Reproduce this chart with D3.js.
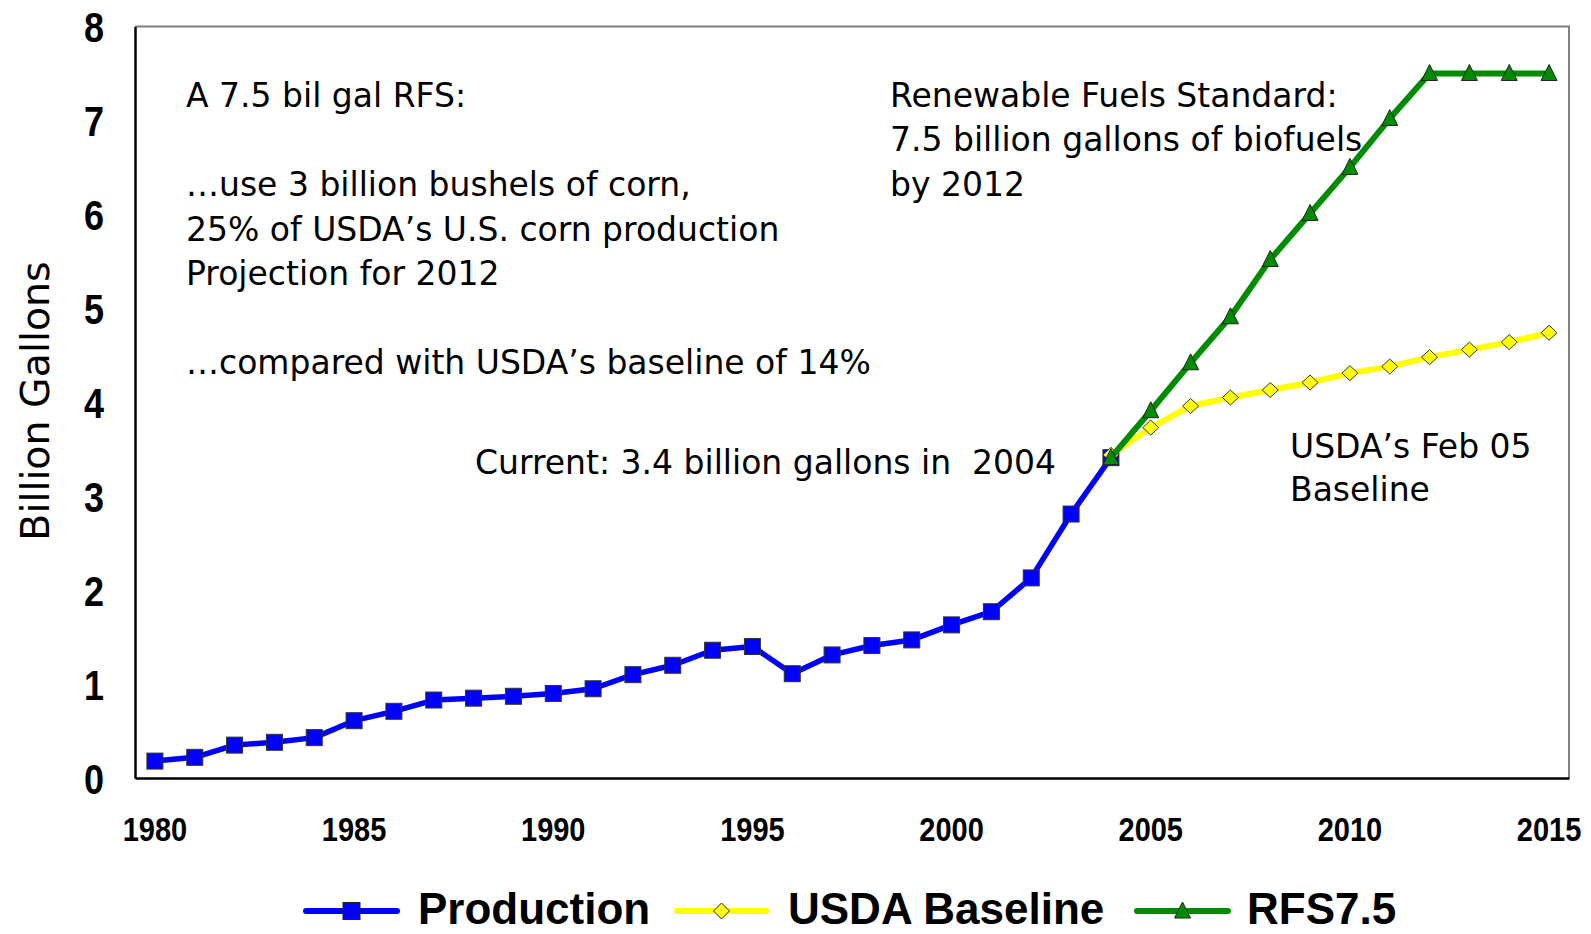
<!DOCTYPE html>
<html>
<head>
<meta charset="utf-8">
<script src="https://cdn.jsdelivr.net/npm/d3@7"></script>
<style>
  html, body { margin: 0; padding: 0; background: #fff; }
  svg { display: block; }
</style>
</head>
<body>
<svg id="chart" width="1591" height="934"></svg>
<script>
// ---- data ----
const years = d3.range(1980, 2016);
const xTickLabels = [1980, 1985, 1990, 1995, 2000, 2005, 2010, 2015];
const yTickLabels = [0, 1, 2, 3, 4, 5, 6, 7, 8];

const productionYears = d3.range(1980, 2005);
const productionValues = [0.18, 0.22, 0.35, 0.38, 0.43, 0.61, 0.71, 0.83, 0.85, 0.87,
                          0.90, 0.95, 1.10, 1.20, 1.36, 1.40, 1.11, 1.31, 1.41, 1.47,
                          1.63, 1.77, 2.13, 2.81, 3.41];

const projYears = d3.range(2004, 2016);
const usdaValues = [3.44, 3.73, 3.96, 4.05, 4.13, 4.21, 4.31, 4.38, 4.48, 4.56, 4.64, 4.74];
const rfsValues  = [3.41, 3.91, 4.42, 4.91, 5.52, 6.01, 6.50, 7.02, 7.50, 7.50, 7.50, 7.50];

const seriesNames = ["Production", "USDA Baseline", "RFS7.5"];
const yAxisTitle = "Billion Gallons";
const notesLeft = ["A 7.5 bil gal RFS:", "", "\u2026use 3 billion bushels of corn,",
                   "25% of USDA\u2019s U.S. corn production", "Projection for 2012", "",
                   "\u2026compared with USDA\u2019s baseline of 14%"];
const noteCurrent = "Current: 3.4 billion gallons in\u00a0 2004";
const notesRFS = ["Renewable Fuels Standard:", "7.5 billion gallons of biofuels", "by 2012"];
const notesUSDA = ["USDA\u2019s Feb 05", "Baseline"];

// ---- layout ----
const svg = d3.select("#chart");
const L = 135, R = 1569, T = 26.5, B = 778;

const x = d3.scaleBand().domain(years).range([L, R]).padding(0);
const cx = d => x(d) + x.bandwidth() / 2;
const y = d3.scaleLinear().domain([0, 8]).range([B, T]);

const BLUE = "#0000ff", YELLOW = "#ffff00", GREEN = "#008c00";
const TICKFONT = "'Liberation Sans', Arial, sans-serif";
const NOTEFONT = "'DejaVu Sans', Verdana, sans-serif";

// frame (top & right gray)
svg.append("path")
  .attr("d", `M${L},${T}H${R}V${B}`)
  .attr("fill", "none").attr("stroke", "#808080").attr("stroke-width", 2);

// x axis
const xAxis = d3.axisBottom(x).tickValues(xTickLabels).tickSize(0).tickPadding(0);
const gx = svg.append("g").attr("transform", `translate(0,${B})`).call(xAxis);
gx.select(".domain").attr("stroke", "#000").attr("stroke-width", 2.5);
gx.selectAll("text")
  .attr("y", null).attr("dy", null)
  .attr("transform", "translate(0,63) scale(1,1.17)")
  .attr("font-family", TICKFONT).attr("font-weight", "bold")
  .attr("font-size", 29).attr("fill", "#000");

// y axis
const yAxis = d3.axisLeft(y).tickValues(yTickLabels).tickSize(0).tickPadding(0);
const gy = svg.append("g").attr("transform", `translate(${L},0)`).call(yAxis);
gy.select(".domain").attr("stroke", "#000").attr("stroke-width", 2.5);
gy.selectAll("text")
  .attr("x", null).attr("dy", null)
  .attr("transform", "translate(-31,15) scale(1,1.17)")
  .attr("font-family", TICKFONT).attr("font-weight", "bold")
  .attr("font-size", 36).attr("fill", "#000");

// y axis title
svg.append("text")
  .attr("transform", `translate(49,401) rotate(-90)`)
  .attr("text-anchor", "middle")
  .attr("font-family", NOTEFONT).attr("font-size", 39.5).attr("fill", "#000")
  .text(yAxisTitle);

// lines
const line = d3.line().x(d => cx(d[0])).y(d => y(d[1]));
const prodData = productionYears.map((yr, i) => [yr, productionValues[i]]);
const usdaData = projYears.map((yr, i) => [yr, usdaValues[i]]);
const rfsData = projYears.map((yr, i) => [yr, rfsValues[i]]);

svg.append("path").datum(prodData).attr("d", line)
  .attr("fill", "none").attr("stroke", BLUE).attr("stroke-width", 5.5).attr("stroke-linejoin", "round");
svg.selectAll(".sq").data(prodData).enter().append("rect")
  .attr("x", d => cx(d[0]) - 8).attr("y", d => y(d[1]) - 8)
  .attr("width", 16).attr("height", 16)
  .attr("fill", BLUE).attr("stroke", "#333").attr("stroke-width", 1);

svg.append("path").datum(usdaData).attr("d", line)
  .attr("fill", "none").attr("stroke", YELLOW).attr("stroke-width", 6).attr("stroke-linejoin", "round");
const diamond = "M0,-7.5L8,0L0,7.5L-8,0Z";
svg.selectAll(".dm").data(usdaData).enter().append("path")
  .attr("d", diamond).attr("transform", d => `translate(${cx(d[0])},${y(d[1])})`)
  .attr("fill", YELLOW).attr("stroke", "#333").attr("stroke-width", 1);

svg.append("path").datum(rfsData).attr("d", line)
  .attr("fill", "none").attr("stroke", GREEN).attr("stroke-width", 6).attr("stroke-linejoin", "round");
const tri = "M0,-9L8,7L-8,7Z";
svg.selectAll(".tr").data(rfsData).enter().append("path")
  .attr("d", tri).attr("transform", d => `translate(${cx(d[0])},${y(d[1])})`)
  .attr("fill", GREEN).attr("stroke", "#222").attr("stroke-width", 1);

// annotations
function block(lines, x0, y0, lh) {
  const t = svg.append("text").attr("font-family", NOTEFONT).attr("font-size", 33).attr("fill", "#000");
  lines.forEach((s, i) => {
    t.append("tspan").attr("x", x0).attr("y", y0 + i * lh).text(s);
  });
}
block(notesLeft, 186, 106.7, 44.6);
block([noteCurrent], 475, 474, 44.6);
block(notesRFS, 890, 106.7, 44.6);
block(notesUSDA, 1290, 457.6, 43.6);

// legend
const legY = 911;
const legend = [
  {name: seriesNames[0], color: BLUE, x0: 306, x1: 397, tx: 418, mark: "sq"},
  {name: seriesNames[1], color: YELLOW, x0: 677, x1: 766, tx: 788, mark: "dm"},
  {name: seriesNames[2], color: GREEN, x0: 1137, x1: 1228, tx: 1247, mark: "tr"}
];
legend.forEach(l => {
  svg.append("line").attr("x1", l.x0).attr("x2", l.x1).attr("y1", legY).attr("y2", legY)
    .attr("stroke", l.color).attr("stroke-width", 6).attr("stroke-linecap", "round");
  const mx = (l.x0 + l.x1) / 2;
  if (l.mark === "sq") {
    svg.append("rect").attr("x", mx - 8.5).attr("y", legY - 8.5).attr("width", 17).attr("height", 17)
      .attr("fill", BLUE).attr("stroke", "#222").attr("stroke-width", 1);
  } else if (l.mark === "dm") {
    svg.append("path").attr("d", "M0,-8L8,0L0,8L-8,0Z").attr("transform", `translate(${mx},${legY})`)
      .attr("fill", YELLOW).attr("stroke", "#222").attr("stroke-width", 1);
  } else {
    svg.append("path").attr("d", "M0,-9L8,7L-8,7Z").attr("transform", `translate(${mx},${legY})`)
      .attr("fill", GREEN).attr("stroke", "#222").attr("stroke-width", 1);
  }
  svg.append("text").attr("x", l.tx).attr("y", 924)
    .attr("font-family", TICKFONT).attr("font-weight", "bold").attr("font-size", 44)
    .attr("fill", "#000").text(l.name);
});
</script>
</body>
</html>
